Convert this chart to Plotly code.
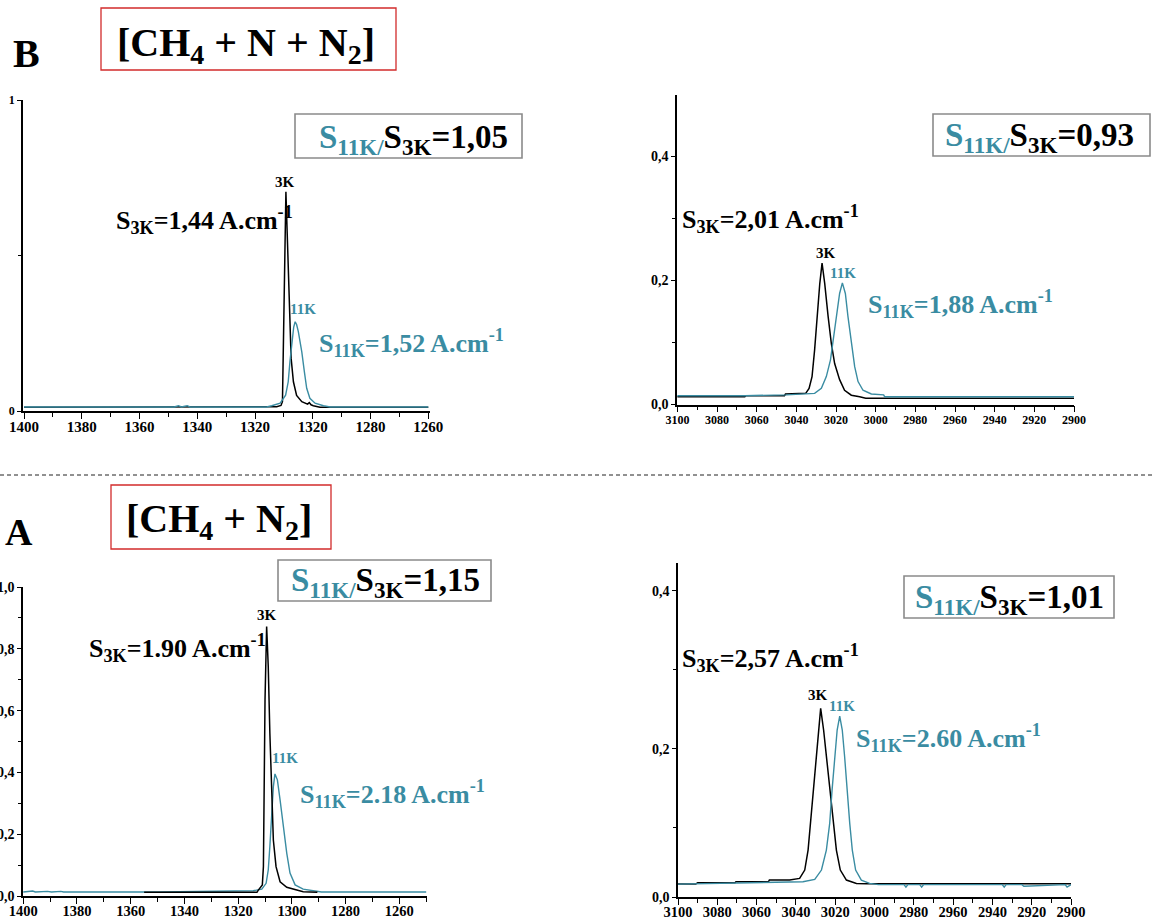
import plotly.graph_objects as go

W, H = 1153, 921
TEAL = "#3a8ca2"
SERIF = "Liberation Serif"

# ---------------- DATA ----------------
# Panel B [CH4 + N + N2], nu4 region (left)
b4_3k_x = [1400, 1340, 1313.5, 1312.5, 1311.0, 1310.5, 1309.3, 1309.0, 1308.7, 1308.2, 1307.5, 1306.7,
           1305.6, 1303.8, 1301.8, 1301.2, 1300.6, 1299.8, 1297.5, 1260]
b4_3k_y = [0.012, 0.012, 0.012, 0.014, 0.018, 0.03, 0.705, 0.62, 0.544, 0.33, 0.17, 0.094,
           0.05, 0.03, 0.022, 0.027, 0.02, 0.017, 0.012, 0.012]
b4_11k_x = [1400, 1348, 1346.5, 1345.5, 1343.5, 1342.5, 1341, 1316, 1314.2, 1311.3, 1309.4, 1308.5, 1307.9,
            1307.3, 1306.6, 1306.1, 1305.6, 1305.0, 1303.8, 1302.9, 1302.1, 1301.0, 1299.2, 1296.3, 1294, 1260]
b4_11k_y = [0.013, 0.013, 0.017, 0.013, 0.017, 0.013, 0.013, 0.013, 0.017, 0.025, 0.051, 0.094, 0.159,
            0.223, 0.27, 0.287, 0.278, 0.255, 0.19, 0.126, 0.073, 0.041, 0.025, 0.017, 0.013, 0.013]

# Panel B, nu3 region (right)
b3_3k_x = [3100, 3066, 3065.5, 3046, 3045.5, 3037, 3035.3, 3033.6, 3032.1, 3030.8, 3029.6, 3028.2, 3027.05,
           3025.7, 3024.0, 3022.4, 3020.7, 3018.2, 3015.7, 3012.3, 3008.1, 3005, 2900]
b3_3k_y = [0.0126, 0.0126, 0.0142, 0.0142, 0.0169, 0.0169, 0.018, 0.026, 0.045, 0.088, 0.142, 0.195, 0.228,
           0.195, 0.142, 0.099, 0.066, 0.040, 0.023, 0.015, 0.0126, 0.010, 0.010]
b3_11k_x = [3100, 3066, 3045, 3036.6, 3030.8, 3027.4, 3024.9, 3022.8, 3021.5, 3019.8, 3018.2, 3016.8,
            3015.3, 3014.0, 3012.3, 3010.6, 3008.9, 3006.4, 3002.2, 2996, 2995.5, 2900]
b3_11k_y = [0.0142, 0.0142, 0.0155, 0.0165, 0.018, 0.026, 0.045, 0.072, 0.104, 0.142, 0.179, 0.196,
            0.179, 0.142, 0.099, 0.061, 0.037, 0.023, 0.017, 0.0155, 0.0126, 0.0126]

# Panel A [CH4 + N2], nu4 region (left)
a4_3k_x = [1355, 1313, 1312.5, 1311.0, 1310.6, 1310.4, 1310.0, 1309.4, 1308.8, 1308.2, 1307.5, 1306.9,
           1305.9, 1304.4, 1301.9, 1299.5, 1295.8, 1290.5]
a4_3k_y = [0.012, 0.012, 0.019, 0.036, 0.095, 0.311, 0.635, 0.872, 0.743, 0.527, 0.311, 0.181,
           0.095, 0.046, 0.028, 0.022, 0.014, 0.012]
a4_11k_x = [1400, 1396.5, 1395.5, 1391, 1389.5, 1386, 1385, 1355, 1350, 1349, 1314.4, 1311.2, 1309.6, 1308.8,
            1308.2, 1307.5, 1306.9, 1306.3, 1305.4, 1304.4, 1303.2, 1301.9, 1300.7, 1298.8, 1295.8,
            1290.8, 1289, 1250]
a4_11k_y = [0.013, 0.016, 0.013, 0.015, 0.013, 0.015, 0.013, 0.013, 0.015, 0.013, 0.017, 0.022, 0.041, 0.084,
            0.160, 0.268, 0.354, 0.395, 0.376, 0.311, 0.224, 0.138, 0.074, 0.036, 0.022,
            0.017, 0.013, 0.013]

# Panel A, nu3 region (right)
a3_3k_x = [3100, 3091, 3090, 3071, 3070.5, 3054, 3053.5, 3043.2, 3038.1, 3035.5, 3033.8, 3032.6, 3031.3,
           3029.9, 3028.7, 3027.4, 3025.9, 3024.5, 3022.8, 3021.1, 3019.4, 3017.4, 3014.3, 3009.2, 3004, 2900]
a3_3k_y = [0.0287, 0.0287, 0.0304, 0.0304, 0.0316, 0.0316, 0.0338, 0.0338, 0.0359, 0.0465, 0.0718, 0.1056,
           0.1477, 0.1899, 0.2237, 0.2511, 0.2237, 0.1899, 0.1477, 0.1056, 0.0718, 0.0465, 0.0338, 0.0296,
           0.029, 0.029]
a3_11k_x = [3100, 3045, 3036.4, 3030.4, 3027.0, 3024.5, 3022.8, 3021.6, 3020.3, 3019.0, 3017.7, 3016.4,
            3015.2, 3014.0, 3012.6, 3011.3, 3009.6, 3006.7, 3002.5, 2998, 2985, 2984, 2983, 2977, 2976, 2975,
            2935, 2934, 2933, 2925, 2924, 2903, 2902, 2900]
a3_11k_y = [0.0287, 0.0304, 0.0316, 0.0347, 0.0465, 0.0718, 0.1056, 0.1477, 0.1899, 0.2237, 0.2414, 0.2237,
            0.1899, 0.1477, 0.1056, 0.0718, 0.0465, 0.0338, 0.0296, 0.028, 0.028, 0.025, 0.028, 0.028, 0.025, 0.028,
            0.028, 0.025, 0.028, 0.028, 0.026, 0.028, 0.025, 0.028]

# Tick labels
nu4_ticks_B = [1400, 1380, 1360, 1340, 1320, 1300, 1280, 1260]
nu4_labels_B = ["1400", "1380", "1360", "1340", "1320", "1320", "1280", "1260"]
nu4_minor_B = [1390, 1370, 1350, 1330, 1310, 1290, 1270]
nu4_ticks_A = [1400, 1380, 1360, 1340, 1320, 1300, 1280, 1260]
nu4_labels_A = ["1400", "1380", "1360", "1340", "1320", "1300", "1280", "1260"]
nu4_minor_A = [1390, 1370, 1350, 1330, 1310, 1290, 1270, 1250]
nu3_ticks = [3100, 3080, 3060, 3040, 3020, 3000, 2980, 2960, 2940, 2920, 2900]
nu3_labels = [str(v) for v in nu3_ticks]
nu3_minor = [3090, 3070, 3050, 3030, 3010, 2990, 2970, 2950, 2930, 2910]
yB4_ticks, yB4_labels, yB4_minor = [0, 1], ["0", "1"], [0.5]
yB3_ticks, yB3_labels, yB3_minor = [0, 0.2, 0.4], ["0,0", "0,2", "0,4"], [0.1, 0.3]
yA4_ticks = [0, 0.2, 0.4, 0.6, 0.8, 1.0]
yA4_labels = ["0,0", "0,2", "0,4", "0,6", "0,8", "1,0"]
yA4_minor = [0.1, 0.3, 0.5, 0.7, 0.9]
yA3_floor = 0.012
yA3_ticks, yA3_labels, yA3_minor = [yA3_floor, 0.2, 0.4], ["0,0", "0,2", "0,4"], [0.1, 0.3]


# ---------------- FIGURE ----------------
def fx(p):
    return p / W


def fy(p):
    return 1 - p / H


fig = go.Figure()


def add(x, y, color, width, xa, ya):
    fig.add_trace(go.Scatter(x=x, y=y, mode="lines", line=dict(color=color, width=width),
                             xaxis=xa, yaxis=ya, showlegend=False, hoverinfo="skip"))


add(b4_3k_x, b4_3k_y, "black", 1.5, "x", "y")
add(b4_11k_x, b4_11k_y, TEAL, 1.4, "x", "y")
add(b3_3k_x, b3_3k_y, "black", 1.5, "x2", "y2")
add(b3_11k_x, b3_11k_y, TEAL, 1.4, "x2", "y2")
add(a4_11k_x, a4_11k_y, TEAL, 1.4, "x3", "y3")
add(a4_3k_x, a4_3k_y, "black", 1.5, "x3", "y3")
add(a3_3k_x, a3_3k_y, "black", 1.5, "x4", "y4")
add(a3_11k_x, a3_11k_y, TEAL, 1.4, "x4", "y4")


def xax(domain, rng, tv, tt, minor, anchor, fsize, standoff):
    return dict(domain=domain, range=rng, anchor=anchor, showline=True, linecolor="black", linewidth=1.5,
                ticks="outside", ticklen=6, tickwidth=1.2, tickcolor="black",
                tickmode="array", tickvals=tv, ticktext=tt, ticklabelstandoff=standoff,
                minor=dict(tickmode="array", tickvals=minor, ticks="outside", ticklen=4, tickcolor="black",
                           tickwidth=1, showgrid=False),
                showgrid=False, zeroline=False, automargin=False,
                tickfont=dict(family=SERIF, size=fsize, color="black", weight="bold"))


def yax(domain, rng, tv, tt, minor, anchor, fsize):
    return dict(domain=domain, range=rng, anchor=anchor, showline=True, linecolor="black", linewidth=1.5,
                ticks="outside", ticklen=4, tickwidth=1.2, tickcolor="black",
                tickmode="array", tickvals=tv, ticktext=tt,
                minor=dict(tickmode="array", tickvals=minor, ticks="outside", ticklen=3, tickcolor="black",
                           tickwidth=1, showgrid=False),
                showgrid=False, zeroline=False, automargin=False,
                tickfont=dict(family=SERIF, size=fsize, color="black", weight="bold"))


fig.update_layout(
    width=W, height=H, template="none",
    margin=dict(l=0, r=0, t=0, b=0),
    paper_bgcolor="white", plot_bgcolor="white", showlegend=False,
    xaxis=xax([fx(23), fx(430)], [1400.35, 1259.4], nu4_ticks_B, nu4_labels_B, nu4_minor_B, "y", 15, -5),
    yaxis=yax([fy(411), fy(100)], [0, 1.0], yB4_ticks, yB4_labels, yB4_minor, "x", 12),
    xaxis2=xax([fx(677), fx(1074)], [3100.2, 2900], nu3_ticks, nu3_labels, nu3_minor, "y2", 12, -3),
    yaxis2=yax([fy(404.5), fy(95)], [0, 0.499], yB3_ticks, yB3_labels, yB3_minor, "x2", 14),
    xaxis3=xax([fx(23), fx(427)], [1400.1, 1249.7], nu4_ticks_A, nu4_labels_A, nu4_minor_A, "y3", 14.5, -5),
    yaxis3=yax([fy(896), fy(587)], [0, 1.0], yA4_ticks, yA4_labels, yA4_minor, "x3", 14),
    xaxis4=xax([fx(678), fx(1071)], [3100, 2900], nu3_ticks, nu3_labels, nu3_minor, "y4", 14.5, -5),
    yaxis4=yax([fy(897.3), fy(563.3)], [yA3_floor, 0.4347], yA3_ticks, yA3_labels, yA3_minor, "x4", 14),
)

shapes = []


def rect(x0, y0, x1, y1, color, width):
    shapes.append(dict(type="rect", xref="paper", yref="paper", x0=fx(x0), x1=fx(x1), y0=fy(y1), y1=fy(y0),
                       line=dict(color=color, width=width), fillcolor="rgba(0,0,0,0)", layer="above"))


RED = "#d22b2b"
GRAY = "#8a8a8a"
rect(101, 8, 396, 70, RED, 1.3)
rect(111, 485, 331, 549, RED, 1.3)
rect(295, 114, 522, 158, GRAY, 1.6)
rect(933, 114, 1150, 156, GRAY, 1.6)
rect(278, 560, 491, 601, GRAY, 1.6)
rect(904, 576, 1114, 618, GRAY, 1.6)
shapes.append(dict(type="line", xref="paper", yref="paper", x0=0, x1=1, y0=fy(475), y1=fy(475),
                   line=dict(color="#222222", width=1, dash="4px,3px")))
fig.update_layout(shapes=shapes)

anns = []


def text(cx, cy, s, size, color="black"):
    anns.append(dict(x=fx(cx), y=fy(cy), xref="paper", yref="paper", text=s, showarrow=False,
                     xanchor="center", yanchor="middle",
                     font=dict(family=SERIF, size=size, color=color, weight="bold")))


def ratio(v):
    return f"<span style='color:{TEAL}'>S<sub>11K/</sub></span>S<sub>3K</sub>={v}"


def s3k(v):
    return f"S<sub>3K</sub>={v} A.cm<sup>-1</sup>"


def s11k(v):
    return f"S<sub>11K</sub>={v} A.cm<sup>-1</sup>"


# Panel B
text(27, 53, "B", 40)
text(246, 45, "[CH<sub>4</sub> + N + N<sub>2</sub>]", 40)
text(413, 139, ratio("1,05"), 33)
text(1039, 137, ratio("0,93"), 33)
text(285, 182, "3K", 15)
text(205, 220, s3k("1,44"), 26)
text(303, 309, "11K", 15, TEAL)
text(411, 343, s11k("1,52"), 26, TEAL)
text(826, 253, "3K", 15)
text(770, 219, s3k("2,01"), 26)
text(843, 273, "11K", 15, TEAL)
text(960, 304, s11k("1,88"), 26, TEAL)
# Panel A
text(19, 532, "A", 38)
text(219, 521, "[CH<sub>4</sub> + N<sub>2</sub>]", 40)
text(385, 582, ratio("1,15"), 33)
text(1009, 599, ratio("1,01"), 33)
text(267, 615, "3K", 15)
text(177, 648, s3k("1.90"), 26)
text(285, 758, "11K", 15, TEAL)
text(392, 794, s11k("2.18"), 26, TEAL)
text(818, 695, "3K", 15)
text(770, 658, s3k("2,57"), 26)
text(842, 706, "11K", 15, TEAL)
text(948, 738, s11k("2.60"), 26, TEAL)
fig.update_layout(annotations=anns)

fig.write_html("out.html", config={"displayModeBar": False},
               post_script="document.body.style.margin='0';document.body.style.overflow='hidden';")
